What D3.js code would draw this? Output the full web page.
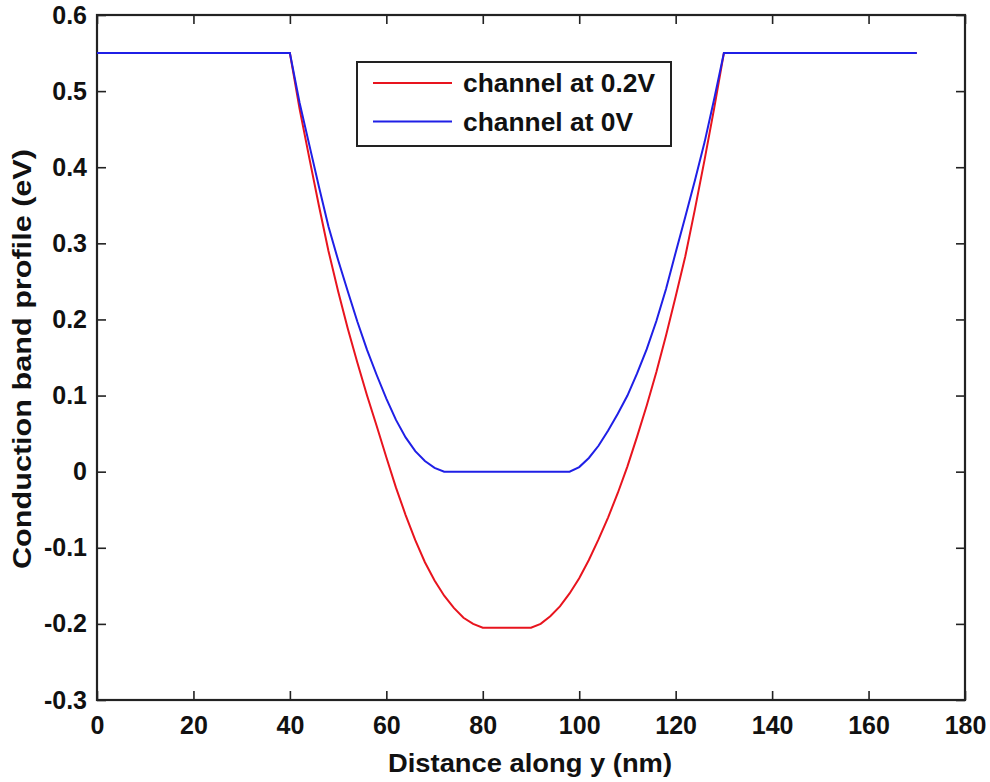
<!DOCTYPE html>
<html>
<head>
<meta charset="utf-8">
<script src="https://cdn.jsdelivr.net/npm/d3@7/dist/d3.min.js"></script>
<style>
  html, body { margin: 0; padding: 0; background: #fff; }
  svg { display: block; }
  text { font-family: "Liberation Sans", Arial, sans-serif; font-weight: bold; fill: #111; }
</style>
</head>
<body>
<svg id="chart" width="990" height="782"></svg>
<script>
// ---- data ----
const xTicks = [0, 20, 40, 60, 80, 100, 120, 140, 160, 180];
const yTicks = [-0.3, -0.2, -0.1, 0, 0.1, 0.2, 0.3, 0.4, 0.5, 0.6];
const yTickLabels = ["-0.3", "-0.2", "-0.1", "0", "0.1", "0.2", "0.3", "0.4", "0.5", "0.6"];

const seriesNames = ["channel at 0.2V", "channel at 0V"];
const seriesColors = ["#e8141e", "#1f1fe6"];

// channel at 0.2V (red)
const redX = [0, 40, 42, 44, 46, 48, 50, 52, 54, 56, 58, 60, 62, 64, 66, 68, 70, 72, 74, 76, 78, 80,
              90, 92, 94, 96, 98, 100, 102, 104, 106, 108, 110, 112, 114, 116, 118, 120, 122, 124, 126, 128, 130, 170];
const redY = [0.55, 0.55, 0.477, 0.413, 0.35, 0.29, 0.237, 0.188, 0.143, 0.1, 0.06, 0.019, -0.021, -0.057, -0.09, -0.119, -0.143, -0.163, -0.179, -0.192, -0.2, -0.205,
              -0.205, -0.2, -0.19, -0.177, -0.16, -0.14, -0.116, -0.089, -0.06, -0.028, 0.007, 0.046, 0.087, 0.131, 0.179, 0.23, 0.283, 0.345, 0.41, 0.478, 0.55, 0.55];

// channel at 0V (blue)
const blueX = [0, 40, 42, 44, 46, 48, 50, 52, 54, 56, 58, 60, 62, 64, 66, 68, 70, 72,
               98, 100, 102, 104, 106, 108, 110, 112, 114, 116, 118, 120, 122, 124, 126, 128, 130, 170];
const blueY = [0.55, 0.55, 0.485, 0.43, 0.375, 0.322, 0.278, 0.237, 0.197, 0.16, 0.127, 0.096, 0.068, 0.045, 0.027, 0.014, 0.005, 0,
               0, 0.006, 0.018, 0.034, 0.054, 0.076, 0.1, 0.129, 0.161, 0.198, 0.24, 0.288, 0.335, 0.383, 0.433, 0.49, 0.55, 0.55];

const xLabel = "Distance along y (nm)";
const yLabel = "Conduction band profile (eV)";

// ---- layout ----
const svg = d3.select("#chart");
const L = 97, R = 965, T = 15, B = 700;
const x = d3.scaleLinear().domain([0, 180]).range([L, R]);
const y = d3.scaleLinear().domain([-0.3, 0.6]).range([B, T]);
const tickLen = 9;
const fs = 25;

// axes (inward ticks, box on all sides)
const gx = svg.append("g").attr("transform", `translate(0,${B})`)
  .call(d3.axisBottom(x).tickValues(xTicks).tickSizeInner(-tickLen).tickSizeOuter(0).tickPadding(16));
const gxTop = svg.append("g").attr("transform", `translate(0,${T})`)
  .call(d3.axisTop(x).tickValues(xTicks).tickSizeInner(-tickLen).tickSizeOuter(0).tickFormat(""));
const gy = svg.append("g").attr("transform", `translate(${L},0)`)
  .call(d3.axisLeft(y).tickValues(yTicks).tickSizeInner(-tickLen).tickSizeOuter(0).tickPadding(10)
    .tickFormat((d, i) => yTickLabels[i]));
const gyRight = svg.append("g").attr("transform", `translate(${R},0)`)
  .call(d3.axisRight(y).tickValues(yTicks).tickSizeInner(-tickLen).tickSizeOuter(0).tickFormat(""));

[gx, gxTop, gy, gyRight].forEach(g => {
  g.select(".domain").remove();
  g.selectAll(".tick line").attr("stroke", "#222").attr("stroke-width", 1.6);
  g.selectAll(".tick text").attr("font-size", fs).attr("font-family", "Liberation Sans, Arial, sans-serif")
    .attr("font-weight", "bold").attr("fill", "#111");
});
gx.selectAll(".tick text").attr("dy", "0.71em");

// frame
svg.append("rect").attr("x", L).attr("y", T).attr("width", R - L).attr("height", B - T)
  .attr("fill", "none").attr("stroke", "#222").attr("stroke-width", 2.2);

// lines
const line = d3.line().x(d => x(d[0])).y(d => y(d[1]));
const redData = redX.map((v, i) => [v, redY[i]]);
const blueData = blueX.map((v, i) => [v, blueY[i]]);
svg.append("path").datum(redData).attr("d", line).attr("fill", "none")
  .attr("stroke", seriesColors[0]).attr("stroke-width", 2);
svg.append("path").datum(blueData).attr("d", line).attr("fill", "none")
  .attr("stroke", seriesColors[1]).attr("stroke-width", 2);

// legend
const legendWidths = [192, 170];
const lg = svg.append("g");
lg.append("rect").attr("x", 357).attr("y", 62).attr("width", 314).attr("height", 84)
  .attr("fill", "#fff").attr("stroke", "#222").attr("stroke-width", 2);
seriesNames.forEach((name, i) => {
  const ly = 83 + i * 38.5;
  lg.append("line").attr("x1", 373).attr("x2", 452).attr("y1", ly).attr("y2", ly)
    .attr("stroke", seriesColors[i]).attr("stroke-width", 2);
  lg.append("text").attr("x", 463).attr("y", ly).attr("dy", "0.36em")
    .attr("font-size", fs).attr("textLength", legendWidths[i]).attr("lengthAdjust", "spacingAndGlyphs").text(name);
});

// axis titles
svg.append("text").attr("x", 530).attr("y", 772).attr("text-anchor", "middle")
  .attr("font-size", 26).attr("textLength", 284).attr("lengthAdjust", "spacingAndGlyphs").text(xLabel);
svg.append("text").attr("transform", "translate(31,359) rotate(-90)").attr("text-anchor", "middle")
  .attr("font-size", 26).attr("textLength", 420).attr("lengthAdjust", "spacingAndGlyphs").text(yLabel);
</script>
</body>
</html>
